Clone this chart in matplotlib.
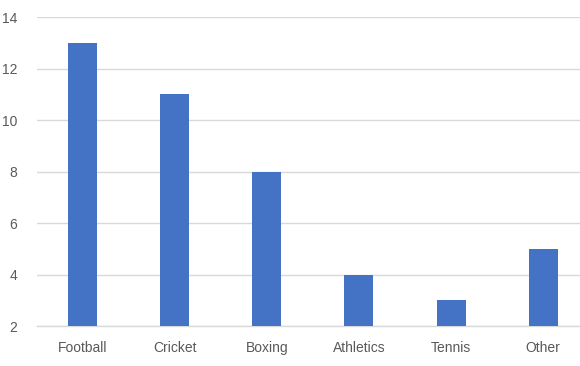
import matplotlib
matplotlib.use("Agg")
import matplotlib.pyplot as plt

sports = ["Football", "Cricket", "Boxing", "Athletics", "Tennis", "Other"]
counts = [13, 11, 8, 4, 3, 5]

plt.rcParams['font.family'] = ['Liberation Sans', 'DejaVu Sans']

fig = plt.figure(figsize=(5.8, 3.66), dpi=100)
ax = fig.add_axes([36.5 / 580, 40 / 366, (580 - 36.5) / 580, (326 - 17.3) / 366])

x = range(len(sports))
ax.bar(x, [c - 2 for c in counts], bottom=2, width=0.315, color="#4472C4", zorder=3)

ax.set_ylim(2, 14)
ax.set_yticks(range(2, 15, 2))
ax.set_xlim(-0.5, 5.4)
ax.set_xticks(list(x))
ax.set_xticklabels(sports)

ax.grid(axis="y", color="#D9D9D9", linewidth=1, zorder=0)
ax.axhline(2, color="#D9D9D9", linewidth=1, zorder=1, clip_on=False)
for s in ax.spines.values():
    s.set_visible(False)
ax.tick_params(axis="both", length=0, colors="#595959", labelsize=10)
ax.tick_params(axis="y", pad=14)
ax.tick_params(axis="x", pad=11)

fig.savefig("out.png", dpi=100)
